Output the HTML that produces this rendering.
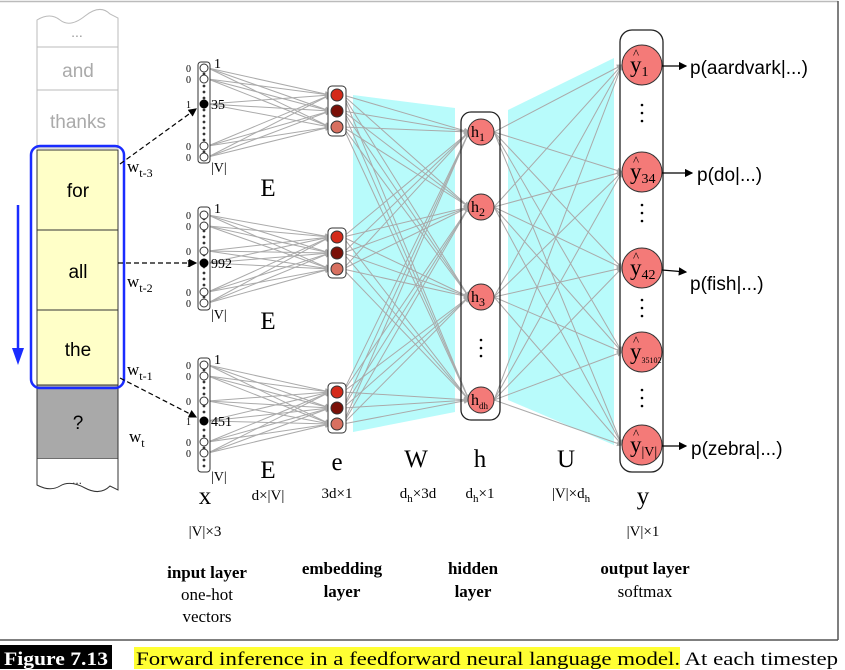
<!DOCTYPE html>
<html><head><meta charset="utf-8"><style>
body{margin:0;background:#fff;width:845px;height:670px;overflow:hidden}
svg{display:block}
.s{font-family:"Liberation Sans",sans-serif}
.t{font-family:"Liberation Serif",serif}
</style></head><body>
<svg id="g" width="845" height="670" viewBox="0 0 845 670" xmlns="http://www.w3.org/2000/svg">
<defs>
<marker id="ag" markerWidth="6" markerHeight="6" refX="5" refY="3" orient="auto"><path d="M0,0 L6,3 L0,6z" fill="#aaa"/></marker>
<marker id="ab" markerWidth="7" markerHeight="7" refX="6" refY="3.5" orient="auto"><path d="M0,0 L7,3.5 L0,7z" fill="#000"/></marker>
</defs>
<line x1="0" y1="1.5" x2="838" y2="1.5" stroke="#bbb" stroke-width="1.5"/>
<line x1="838" y1="1" x2="838" y2="640" stroke="#555" stroke-width="1.5"/>
<line x1="0" y1="640" x2="838" y2="640" stroke="#555" stroke-width="1.5"/>
<polygon points="353,95 455,108 455,412 353,432" fill="#b8fbfb"/>
<polygon points="508,110 614,58 614,445 508,400" fill="#b8fbfb"/>
<path d="M37,47 L37,20 Q50,12 60,20 T85,16 T110,14 L118,18 L118,47" fill="#fff" stroke="#bbb"/>
<rect x="37" y="47" width="81" height="43" fill="#fff" stroke="#bbb"/>
<rect x="37" y="90" width="81" height="58" fill="#fff" stroke="#bbb"/>
<rect x="37" y="150" width="81" height="80" fill="#ffffc8" stroke="#333"/>
<rect x="37" y="230" width="81" height="80" fill="#ffffc8" stroke="#333"/>
<rect x="37" y="310" width="81" height="75" fill="#ffffc8" stroke="#333"/>
<rect x="37" y="385" width="81" height="74" fill="#a9a9a9" stroke="#333"/>
<path d="M37,459 L37,485 Q50,492 60,486 T85,488 T110,486 L118,490 L118,459" fill="#fff" stroke="#333"/>
<text x="77" y="37" class="s" font-size="14" fill="#999" text-anchor="middle">...</text>
<text x="78" y="77" class="s" font-size="19" fill="#aaa" text-anchor="middle">and</text>
<text x="78" y="128" class="s" font-size="19" fill="#aaa" text-anchor="middle">thanks</text>
<text x="78" y="197" class="s" font-size="19" text-anchor="middle">for</text>
<text x="78" y="278" class="s" font-size="19" text-anchor="middle">all</text>
<text x="78" y="356" class="s" font-size="19" text-anchor="middle">the</text>
<text x="78" y="429" class="s" font-size="19" text-anchor="middle">?</text>
<text x="77" y="484" class="s" font-size="12" fill="#333" text-anchor="middle">...</text>
<rect x="31" y="146" width="93" height="242" rx="9" fill="none" stroke="#1a2cff" stroke-width="2.5"/>
<line x1="18" y1="205" x2="18" y2="350" stroke="#1a2cff" stroke-width="2.5"/>
<path d="M12,348 L24,348 L18,365z" fill="#1a2cff"/>
<g class="t" font-size="17">
<text x="127" y="172">w<tspan font-size="12" dy="5">t-3</tspan></text>
<text x="127" y="287">w<tspan font-size="12" dy="5">t-2</tspan></text>
<text x="127" y="375">w<tspan font-size="12" dy="5">t-1</tspan></text>
<text x="129" y="442">w<tspan font-size="12" dy="5">t</tspan></text>
</g>
<g stroke="#000" stroke-dasharray="5,3" stroke-width="1.2" fill="none">
<line x1="120" y1="164" x2="196" y2="109" marker-end="url(#ab)"/>
<line x1="118" y1="263" x2="196" y2="263" marker-end="url(#ab)"/>
<line x1="120" y1="378" x2="196" y2="417" marker-end="url(#ab)"/>
</g>
<g id="lines" stroke="#aaa" stroke-width="1" fill="none"></g>
<g id="nodes"></g>
<rect x="461" y="112" width="39" height="308" rx="10" fill="none" stroke="#222" stroke-width="1.3"/>
<rect x="620" y="30" width="43" height="442" rx="12" fill="none" stroke="#222" stroke-width="1.3"/>
<g id="labels" class="t" font-size="14"></g>
<g stroke="#000" stroke-width="1.2">
<line x1="662" y1="66" x2="686" y2="66" marker-end="url(#ab)"/>
<line x1="662" y1="173" x2="692" y2="173" marker-end="url(#ab)"/>
<line x1="662" y1="270" x2="686" y2="272" marker-end="url(#ab)"/>
<line x1="662" y1="446" x2="686" y2="446" marker-end="url(#ab)"/>
</g>
<g class="s" font-size="19">
<text x="690" y="74">p(aardvark|...)</text>
<text x="697" y="181">p(do|...)</text>
<text x="690" y="290">p(fish|...)</text>
<text x="691" y="455">p(zebra|...)</text>
</g>
<g class="t" text-anchor="middle">
<text x="268" y="196" font-size="25">E</text>
<text x="268" y="329" font-size="25">E</text>
<text x="268" y="478" font-size="25">E</text>
<text x="205" y="504" font-size="25">x</text>
<text x="337" y="470" font-size="25">e</text>
<text x="416" y="467" font-size="25">W</text>
<text x="480" y="467" font-size="25">h</text>
<text x="566" y="467" font-size="25">U</text>
<text x="643" y="504" font-size="25">y</text>
<text x="268" y="500" font-size="15">d×|V|</text>
<text x="337" y="498" font-size="15">3d×1</text>
<text x="418" y="498" font-size="15">d<tspan font-size="11" dy="4">h</tspan><tspan dy="-4">×3d</tspan></text>
<text x="480" y="498" font-size="15">d<tspan font-size="11" dy="4">h</tspan><tspan dy="-4">×1</tspan></text>
<text x="571" y="498" font-size="15">|V|×d<tspan font-size="11" dy="4">h</tspan></text>
<text x="205" y="536" font-size="15">|V|×3</text>
<text x="643" y="536" font-size="15">|V|×1</text>
<g font-size="17">
<text x="207" y="578" font-weight="bold">input layer</text>
<text x="207" y="600">one-hot</text>
<text x="207" y="622">vectors</text>
<text x="342" y="574" font-weight="bold">embedding</text>
<text x="342" y="597" font-weight="bold">layer</text>
<text x="473" y="574" font-weight="bold">hidden</text>
<text x="473" y="597" font-weight="bold">layer</text>
<text x="645" y="574" font-weight="bold">output layer</text>
<text x="645" y="597">softmax</text>
</g>
</g>
<rect x="0" y="645" width="112" height="24" fill="#000"/>
<text x="4" y="665" class="t" font-size="19" font-weight="bold" fill="#fff" textLength="104" lengthAdjust="spacingAndGlyphs">Figure 7.13</text>
<rect x="134" y="647" width="546" height="22" fill="#ffff33"/>
<text x="136" y="665" class="t" font-size="19" textLength="702" lengthAdjust="spacingAndGlyphs">Forward inference in a feedforward neural language model. At each timestep</text>
</svg>
<script>
var NS="http://www.w3.org/2000/svg";
function el(p,t,a){var e=document.createElementNS(NS,t);for(var k in a)e.setAttribute(k,a[k]);p.appendChild(e);return e;}
var L=document.getElementById('lines'),N=document.getElementById('nodes'),T=document.getElementById('labels');
var groups=[{top:62,bot:163,ys:[68,79,146,157],blk:104,num:"35"},
 {top:207,bot:310,ys:[215,226,251,292,303],blk:263,num:"992"},
 {top:358,bot:472,ys:[365,376,401,442,453],blk:421,num:"451"}];
var emb=[[95,111,127],[237,253,269],[392,408,424]];
var hid=[132,207,297,400], out=[65,172,268,352,445];
var cols=["#d42a1a","#7a1008","#d87060"];
groups.forEach(function(g,i){
 g.ys.concat([g.blk]).forEach(function(y){emb[i].forEach(function(ey){el(L,'line',{x1:208,y1:y,x2:330,y2:ey,'marker-end':'url(#ag)'});});});
 emb[i].forEach(function(ey){hid.forEach(function(hy){el(L,'line',{x1:343,y1:ey,x2:469,y2:hy,'marker-end':'url(#ag)'});});});
 el(N,'rect',{x:198,y:g.top,width:12,height:g.bot-g.top,rx:3,fill:'#fff',stroke:'#333'});
 for(var y=g.top+6;y<g.bot-4;y+=6){el(N,'circle',{cx:204,cy:y,r:1.4,fill:'#333'});}
 g.ys.forEach(function(y){el(N,'circle',{cx:204,cy:y,r:4,fill:'#fff',stroke:'#333'});
  var t=el(T,'text',{x:186,y:y+4,'font-size':10});t.textContent='0';});
 el(N,'circle',{cx:204,cy:g.blk,r:4.5,fill:'#000'});
 var t=el(T,'text',{x:186,y:g.blk+4,'font-size':10});t.textContent='1';
 t=el(T,'text',{x:214,y:g.top+6});t.textContent='1';
 t=el(T,'text',{x:211,y:g.blk+5});t.textContent=g.num;
 t=el(T,'text',{x:211,y:g.bot+9});t.textContent='|V|';
 var e=emb[i];
 el(N,'rect',{x:328,y:e[0]-9,width:18,height:e[2]-e[0]+18,rx:4,fill:'#fff',stroke:'#333'});
 e.forEach(function(y,k){el(N,'circle',{cx:337,cy:y,r:6,fill:cols[k],stroke:'#333'});});
});
hid.forEach(function(hy){out.forEach(function(oy){el(L,'line',{x1:494,y1:hy,x2:622,y2:oy,'marker-end':'url(#ag)'});});});
var hl=["1","2","3","dh"];
hid.forEach(function(y,k){el(N,'circle',{cx:481,cy:y,r:13,fill:'#f47a78',stroke:'#333'});
 var t=el(N,'text',{x:471,y:y+5,'font-family':'Liberation Serif','font-size':16});t.textContent='h';
 var s=el(t,'tspan',{dy:4,'font-size':k==3?9:12});s.textContent=hl[k];});
[340,348,356].forEach(function(y){el(N,'circle',{cx:481,cy:y,r:1.3,fill:'#000'});});
var ol=["1","34","42","35102","|V|"];
out.forEach(function(y,k){el(N,'circle',{cx:642,cy:y,r:20,fill:'#f47a78',stroke:'#333'});
 var t=el(N,'text',{x:630,y:y+7,'font-family':'Liberation Serif','font-size':23});t.textContent='y';
 var s=el(t,'tspan',{dy:4,'font-size':k==3?8:14});s.textContent=ol[k];
 var c=el(N,'text',{x:633,y:y-7,'font-family':'Liberation Serif','font-size':13});c.textContent='^';});
[[105,113,121],[205,213,221],[300,308,316],[390,398,406]].forEach(function(a){a.forEach(function(y){el(N,'circle',{cx:642,cy:y,r:1.3,fill:'#000'});});});
</script>
</body></html>
